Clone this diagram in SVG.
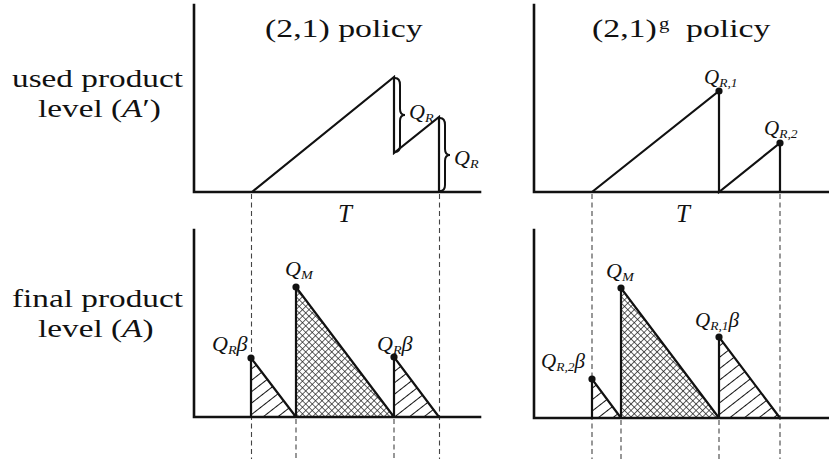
<svg xmlns="http://www.w3.org/2000/svg" width="829" height="459" viewBox="0 0 829 459">
<defs>
<style>
.axis{stroke:#111;stroke-width:2.6;fill:none;stroke-linecap:square}
.ln{stroke:#111;stroke-width:2.2;fill:none;stroke-linejoin:miter}
.dash{stroke:#444;stroke-width:1.1;stroke-dasharray:5 3.5;fill:none}
.brace{stroke:#111;stroke-width:2;fill:none}
.dot{fill:#111}
.t{font-family:"Liberation Serif","Times New Roman",serif;font-size:26px;fill:#111}
.it{font-style:italic}
.m{font-family:"Liberation Serif","Times New Roman",serif;font-style:italic;font-size:21px;fill:#111}
.sub{font-size:13.5px}
</style>
<pattern id="hatch" patternUnits="userSpaceOnUse" width="9" height="9" patternTransform="rotate(-38)">
<line x1="0" y1="4.5" x2="9" y2="4.5" stroke="#111" stroke-width="1"/>
</pattern>
<pattern id="cross" patternUnits="userSpaceOnUse" width="4.6" height="4.6" patternTransform="rotate(45)">
<line x1="0" y1="0" x2="4.6" y2="0" stroke="#111" stroke-width="1.3"/>
<line x1="0" y1="0" x2="0" y2="4.6" stroke="#111" stroke-width="1.3"/>
</pattern>
</defs>
<rect width="829" height="459" fill="#fff"/>

<g id="row-labels">
<text class="t" transform="translate(12,87) scale(1.28,1)">used product</text>
<text class="t" transform="translate(38,117) scale(1.28,1)">level (<tspan class="it">A</tspan>′)</text>
<text class="t" transform="translate(12,307) scale(1.28,1)">final product</text>
<text class="t" transform="translate(38,337) scale(1.28,1)">level (<tspan class="it">A</tspan>)</text>
</g>

<g id="titles">
<text class="t" transform="translate(265,37) scale(1.3,1)">(2,1) policy</text>
<text class="t" transform="translate(592,37) scale(1.3,1)">(2,1)</text>
<text class="t" style="font-size:16px" transform="translate(659,29) scale(1.3,1)">g</text>
<text class="t" transform="translate(686,37) scale(1.3,1)">policy</text>
</g>

<g id="connectors">
<line class="dash" x1="251.5" y1="194" x2="251.5" y2="459"/>
<line class="dash" x1="439.5" y1="194" x2="439.5" y2="459"/>
<line class="dash" x1="296" y1="419" x2="296" y2="459"/>
<line class="dash" x1="394" y1="419" x2="394" y2="459"/>
<line class="dash" x1="592" y1="194" x2="592" y2="459"/>
<line class="dash" x1="780" y1="194" x2="780" y2="459"/>
<line class="dash" x1="621" y1="420" x2="621" y2="459"/>
<line class="dash" x1="719" y1="420" x2="719" y2="459"/>
</g>

<g id="panel-top-left">
<polyline class="axis" points="194,5 194,192 480,192"/>
<polyline class="ln" points="252,192 394,77 394,153 439,117 439,192"/>
<path class="brace" d="M395,78 Q400,78 400,85 L400,109 Q400,115 405,115 Q400,115 400,121 L400,146 Q400,152 395,152"/>
<path class="brace" d="M440,118 Q445,118 445,125 L445,149 Q445,155 450,155 Q445,155 445,161 L445,185 Q445,191 440,191"/>
<text class="m" transform="translate(409,119) scale(1.05,1)">Q<tspan class="sub" dy="3">R</tspan></text>
<text class="m" transform="translate(454,165) scale(1.05,1)">Q<tspan class="sub" dy="3">R</tspan></text>
<text class="m" style="font-size:25px" transform="translate(338,222)">T</text>
</g>

<g id="panel-top-right">
<polyline class="axis" points="534,5 534,192 829,192"/>
<polyline class="ln" points="592,192 719,91 719,192 780,143 780,192"/>
<circle class="dot" cx="719" cy="91" r="3.6"/>
<circle class="dot" cx="780" cy="143" r="3.6"/>
<text class="m" transform="translate(704,84) scale(1.0,1)">Q<tspan class="sub" dy="3">R,1</tspan></text>
<text class="m" transform="translate(764,135) scale(1.0,1)">Q<tspan class="sub" dy="3">R,2</tspan></text>
<text class="m" style="font-size:25px" transform="translate(676,222)">T</text>
</g>

<g id="panel-bottom-left">
<polyline class="axis" points="194,230 194,417 480,417"/>
<polygon points="251,358 296,417 251,417" fill="url(#hatch)"/>
<polygon points="296,287 394,417 296,417" fill="url(#cross)"/>
<polygon points="394,357 439,417 394,417" fill="url(#hatch)"/>
<polyline class="ln" points="251,417 251,358 296,417"/>
<polyline class="ln" points="296,417 296,287 394,417"/>
<polyline class="ln" points="394,417 394,357 439,417"/>
<circle class="dot" cx="251" cy="358" r="3.6"/>
<circle class="dot" cx="296" cy="287" r="3.6"/>
<circle class="dot" cx="394" cy="357" r="3.6"/>
<text class="m" transform="translate(285,276) scale(1.05,1)">Q<tspan class="sub" dy="3">M</tspan></text>
<text class="m" transform="translate(212,351) scale(1.05,1)">Q<tspan class="sub" dy="3">R</tspan><tspan dy="-3">β</tspan></text>
<text class="m" transform="translate(377,351) scale(1.05,1)">Q<tspan class="sub" dy="3">R</tspan><tspan dy="-3">β</tspan></text>
</g>

<g id="panel-bottom-right">
<polyline class="axis" points="534,230 534,418 829,418"/>
<polygon points="592,379 621,418 592,418" fill="url(#hatch)"/>
<polygon points="621,288 719,418 621,418" fill="url(#cross)"/>
<polygon points="719,337 780,418 719,418" fill="url(#hatch)"/>
<polyline class="ln" points="592,418 592,379 621,418"/>
<polyline class="ln" points="621,418 621,288 719,418"/>
<polyline class="ln" points="719,418 719,337 780,418"/>
<circle class="dot" cx="592" cy="379" r="3.6"/>
<circle class="dot" cx="621" cy="288" r="3.6"/>
<circle class="dot" cx="719" cy="337" r="3.6"/>
<text class="m" transform="translate(606,278) scale(1.05,1)">Q<tspan class="sub" dy="3">M</tspan></text>
<text class="m" transform="translate(695,327) scale(1.0,1)">Q<tspan class="sub" dy="3">R,1</tspan><tspan dy="-3">β</tspan></text>
<text class="m" transform="translate(541,368) scale(1.0,1)">Q<tspan class="sub" dy="3">R,2</tspan><tspan dy="-3">β</tspan></text>
</g>
</svg>
